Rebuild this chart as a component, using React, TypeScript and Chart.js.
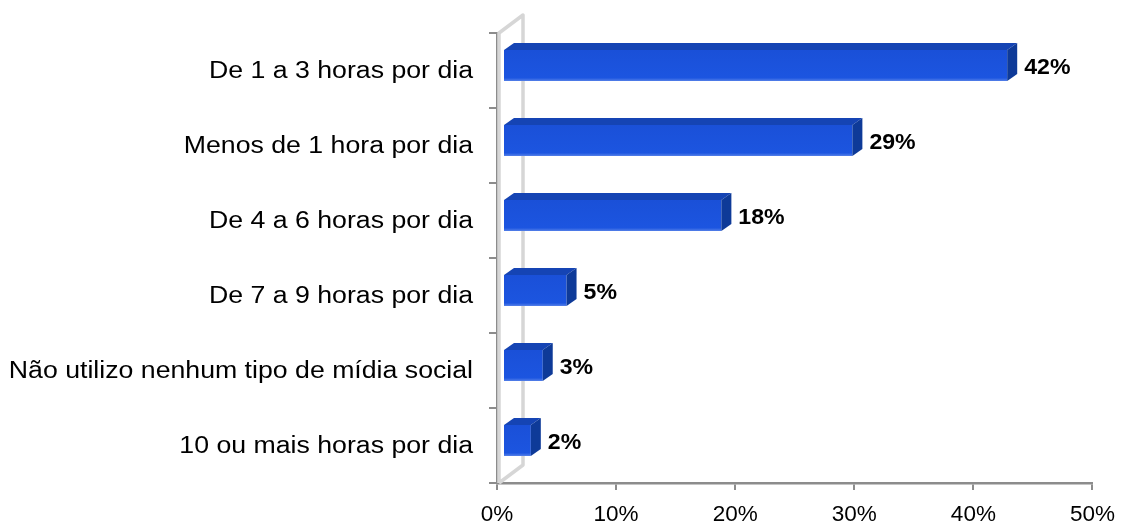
import React, { useEffect, useRef } from 'react';
import { Chart, registerables } from 'chart.js';
Chart.register(...registerables);

const categories = [
  'De 1 a 3 horas por dia',
  'Menos de 1 hora por dia',
  'De 4 a 6 horas por dia',
  'De 7 a 9 horas por dia',
  'Não utilizo nenhum tipo de mídia social',
  '10 ou mais horas por dia',
];
const values = [42, 29, 18, 5, 3, 2];
const xMin = 0;
const xMax = 50;
const xStep = 10;

const FONT = '"Liberation Sans", Arial, sans-serif';

const threeD = {
  id: 'threeD',
  beforeDatasetsDraw(chart: any) {
    const { ctx, chartArea } = chart;
    const { left, top, bottom } = chartArea;
    ctx.save();
    ctx.strokeStyle = '#d6d6d6';
    ctx.lineWidth = 3.5;
    ctx.lineJoin = 'round';
    ctx.beginPath();
    const fx = left + 2;
    const bx = left + 26;
    ctx.moveTo(fx, bottom);
    ctx.lineTo(fx, top);
    ctx.lineTo(bx, top - 18);
    ctx.lineTo(bx, bottom - 18);
    ctx.lineTo(fx, bottom);
    ctx.stroke();
    ctx.restore();
  },
  afterDatasetsDraw(chart: any) {
    const { ctx } = chart;
    const meta = chart.getDatasetMeta(0);
    const dx = 10;
    const dy = 7;
    meta.data.forEach((el: any, i: number) => {
      const p = el.getProps(['x', 'y', 'base', 'height'], true);
      const L = p.base + 6;
      const R = p.x + 10;
      const T = p.y - p.height / 2 - 5;
      const B = T + p.height;
      ctx.save();
      // front
      const g = ctx.createLinearGradient(0, T, 0, B);
      g.addColorStop(0, '#1a50d8');
      g.addColorStop(0.9, '#1c55e0');
      g.addColorStop(1, '#5580e8');
      ctx.fillStyle = g;
      ctx.fillRect(L, T, R - L, B - T);
      // top
      ctx.fillStyle = '#1544b4';
      ctx.beginPath();
      ctx.moveTo(L, T);
      ctx.lineTo(L + dx, T - dy);
      ctx.lineTo(R + dx, T - dy);
      ctx.lineTo(R, T);
      ctx.closePath();
      ctx.fill();
      // side
      ctx.fillStyle = '#0e3a98';
      ctx.beginPath();
      ctx.moveTo(R, T);
      ctx.lineTo(R + dx, T - dy);
      ctx.lineTo(R + dx, B - dy);
      ctx.lineTo(R, B);
      ctx.closePath();
      ctx.fill();
      // label
      ctx.fillStyle = '#000';
      ctx.font = `bold 22px ${FONT}`;
      ctx.textAlign = 'left';
      ctx.textBaseline = 'middle';
      ctx.translate(R + dx + 7, (T + B) / 2 + 2);
      ctx.scale(1.05, 1);
      ctx.fillText(`${values[i]}%`, 0, 0);
      ctx.restore();
    });
  },
  afterDraw(chart: any) {
    const { ctx } = chart;
    const ys = chart.scales.y;
    ctx.save();
    ctx.fillStyle = '#000';
    ctx.font = `23px ${FONT}`;
    ctx.textAlign = 'right';
    ctx.textBaseline = 'middle';
    categories.forEach((c, i) => {
      const y = ys.getPixelForValue(i);
      ctx.save();
      ctx.translate(473, y + 1);
      ctx.scale(1.16, 1);
      ctx.fillText(c, 0, 0);
      ctx.restore();
    });
    ctx.restore();
  },
};

export default function App() {
  const ref = useRef<HTMLCanvasElement>(null);
  useEffect(() => {
    if (!ref.current) return;
    const chart = new Chart(ref.current, {
      type: 'bar',
      data: {
        labels: categories,
        datasets: [
          {
            data: values,
            backgroundColor: 'rgba(0,0,0,0)',
            borderWidth: 0,
            barPercentage: 31 / 75,
            categoryPercentage: 1,
          },
        ],
      },
      options: {
        indexAxis: 'y',
        responsive: false,
        animation: false,
        devicePixelRatio: 1,
        layout: { padding: { left: 0, top: 33, right: 29, bottom: 0 } },
        plugins: {
          legend: { display: false },
          tooltip: { enabled: false },
          title: { display: false },
        },
        scales: {
          x: {
            min: xMin,
            max: xMax,
            ticks: {
              stepSize: xStep,
              callback: (v: any) => `${v}%`,
              color: '#000',
              font: { family: FONT, size: 22.5 },
              padding: 11,
              maxRotation: 0,
            },
            grid: {
              drawOnChartArea: false,
              drawTicks: true,
              tickLength: 7,
              color: '#8c8c8c',
              lineWidth: 2,
            },
            border: { display: true, color: '#8c8c8c', width: 2.5 },
            afterFit: (s: any) => {
              s.height = 42;
            },
          },
          y: {
            type: 'category',
            ticks: { display: false },
            grid: {
              offset: true,
              drawOnChartArea: false,
              drawTicks: true,
              tickLength: 8,
              color: '#8c8c8c',
              lineWidth: 2,
            },
            border: { display: true, color: '#8c8c8c', width: 2 },
            afterFit: (s: any) => {
              s.width = 497;
            },
          },
        },
      },
      plugins: [threeD],
    });
    return () => chart.destroy();
  }, []);
  return (
    <div style={{ position: 'fixed', left: 0, top: 0, width: 1126, height: 525, background: '#fff' }}>
      <canvas ref={ref} width={1126} height={525} style={{ display: 'block' }} />
    </div>
  );
}
